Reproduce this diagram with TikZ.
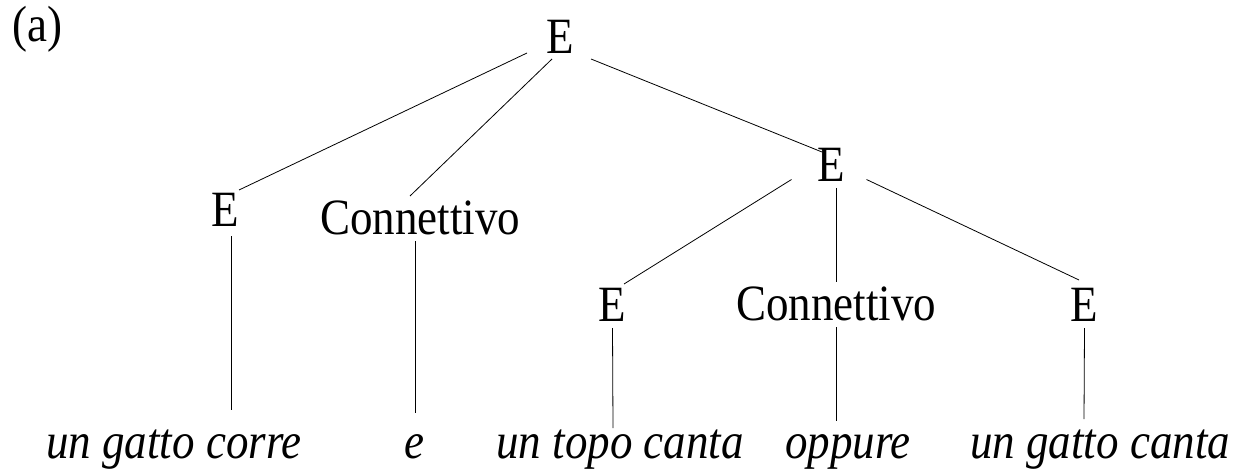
\documentclass[tikz,border=0pt]{standalone}
\usepackage{fontspec}
\setmainfont{Liberation Serif}
\usetikzlibrary{calc}
\newcommand{\tallt}[1]{\scalebox{1}[1.13]{#1}}
\begin{document}
\begin{tikzpicture}[x=1pt,y=-1pt,
  lab/.style={inner sep=0pt,anchor=base,font=\fontsize{45}{50}\selectfont},
  leaf/.style={lab,font=\fontsize{45}{50}\selectfont\itshape},
  edge/.style={draw=black,line width=0.8pt}]
\useasboundingbox (0,0) rectangle (1236,473);
\node[lab,anchor=base west] (tag) at (12,42) {\tallt{(a)}};
\node[lab] (top) at (560.5,54) {\tallt{E}};
\node[lab] (e1) at (225.5,226) {\tallt{E}};
\node[lab] (c1) at (420,234) {\tallt{Connettivo}};
\node[lab] (mid) at (831.5,182) {\tallt{E}};
\node[lab] (e2) at (612.5,321) {\tallt{E}};
\node[lab] (c2) at (836,320) {\tallt{Connettivo}};
\node[lab] (e3) at (1084.5,321) {\tallt{E}};
\node[leaf] (l1) at (174,458) {\tallt{un gatto corre}};
\node[leaf] (l2) at (414,458) {\tallt{e}};
\node[leaf] (l3) at (620,458) {\tallt{un topo canta}};
\node[leaf] (l4) at (848,458) {\tallt{oppure}};
\node[leaf] (l5) at (1100,458) {\tallt{un gatto canta}};
\draw[edge] ($(top.base)+(-33.5,-1)$) -- ($(e1.base)+(13.5,-36)$);
\draw[edge] ($(top.base)+(-8.5,5)$) -- ($(c1.base)+(-10,-38)$);
\draw[edge] ($(top.base)+(30.5,5)$) -- ($(mid.base)+(-9.5,-30)$);
\draw[edge] ($(mid.base)+(-40,-2.5)$) -- ($(e2.base)+(11.5,-37)$);
\draw[edge] ($(mid.base)+(4.5,6)$) -- ($(c2.base)+(0,-38)$);
\draw[edge] ($(mid.base)+(35,-2.5)$) -- ($(e3.base)+(-5.5,-41)$);
\draw[edge] ($(e1.base)+(5.5,10)$) -- ($(l1.base)+(57,-48)$);
\draw[edge] ($(c1.base)+(-5,7)$) -- ($(l2.base)+(1,-45)$);
\draw[edge] ($(e2.base)+(0,7)$) -- ($(l3.base)+(-7,-30)$);
\draw[edge] ($(c2.base)+(0,7)$) -- ($(l4.base)+(-12,-37)$);
\draw[edge] ($(e3.base)+(0,7)$) -- ($(l5.base)+(-16,-39)$);
\end{tikzpicture}
\end{document}
